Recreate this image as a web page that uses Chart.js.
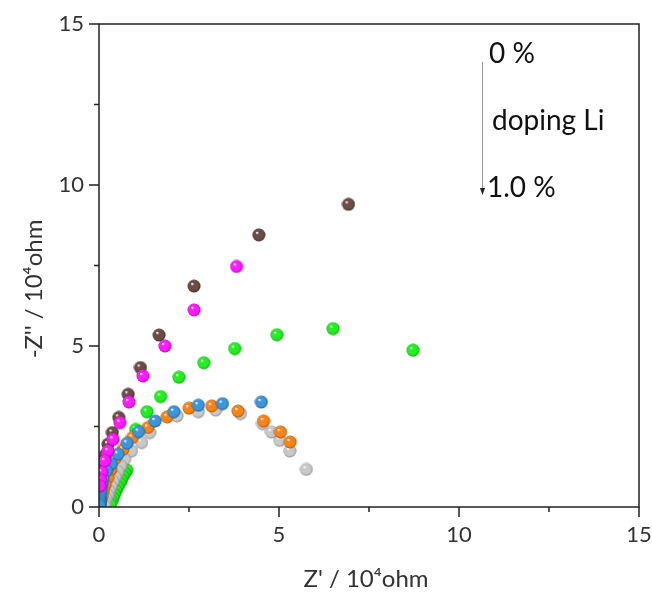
<!DOCTYPE html>
<html>
<head>
<meta charset="utf-8">
<script src="https://cdn.jsdelivr.net/npm/chart.js@4.4.1/dist/chart.umd.min.js"></script>
<style>
  html, body { margin: 0; padding: 0; background: #fff; }
  #wrap { width: 652px; height: 601px; }
</style>
</head>
<body>
<div id="wrap"><canvas id="nyquist"></canvas></div>
<script>
// Nyquist plots, Z' and -Z'' in 10^4 ohm
const dope0 = [ // 0 %
    [6.93, 9.40], [4.44, 8.45], [2.64, 6.86], [1.67, 5.34], [1.15, 4.33], [0.81, 3.50],
    [0.55, 2.78], [0.37, 2.31], [0.25, 1.95], [0.16, 1.60], [0.10, 1.30], [0.06, 1.00]
];
const dope02 = [
    [3.82, 7.47], [2.64, 6.12], [1.83, 5.00], [1.22, 4.07], [0.83, 3.26], [0.58, 2.62],
    [0.39, 2.10], [0.25, 1.74], [0.16, 1.43], [0.07, 1.08], [0.04, 0.85], [0.02, 0.65]
];
const dope04 = [
    [8.72, 4.87], [6.50, 5.54], [4.94, 5.35], [3.77, 4.92], [2.91, 4.48], [2.22, 4.03],
    [1.71, 3.43], [1.33, 2.96], [1.02, 2.41],
    [0.77, 1.15], [0.72, 1.05], [0.67, 0.95], [0.62, 0.84], [0.57, 0.73], [0.52, 0.62],
    [0.47, 0.50], [0.43, 0.39], [0.39, 0.28], [0.35, 0.18], [0.31, 0.08]
];
const dope06 = [
    [4.51, 3.26], [3.43, 3.21], [2.76, 3.16], [2.08, 2.96], [1.56, 2.67], [1.10, 2.34],
    [0.78, 1.98], [0.53, 1.64], [0.34, 1.33], [0.21, 1.12], [0.11, 0.86],
    [0.08, 0.72], [0.06, 0.60], [0.05, 0.48], [0.04, 0.38], [0.035, 0.29], [0.03, 0.21],
    [0.025, 0.14], [0.02, 0.08], [0.015, 0.03]
];
const dope08 = [
    [5.31, 2.02], [5.04, 2.33], [4.57, 2.67], [3.86, 2.98], [3.13, 3.14], [2.50, 3.07],
    [1.89, 2.80], [1.36, 2.47], [0.93, 2.16], [0.67, 1.79], [0.44, 1.48],
    [0.33, 1.15], [0.24, 0.90], [0.17, 0.68], [0.12, 0.50], [0.08, 0.33], [0.05, 0.20], [0.03, 0.10]
];
const dope10 = [ // 1.0 %
    [5.76, 1.17], [5.30, 1.74], [5.02, 2.07], [4.79, 2.33], [4.54, 2.59], [3.93, 2.90],
    [3.24, 3.01], [2.76, 2.96], [2.17, 2.83], [1.41, 2.31], [1.18, 2.00], [0.90, 1.74],
    [0.71, 1.48], [0.60, 1.28], [0.52, 1.10], [0.45, 0.94], [0.39, 0.79], [0.33, 0.64],
    [0.28, 0.50], [0.24, 0.37], [0.20, 0.25], [0.17, 0.14], [0.15, 0.05]
];
const axisTicks = [0, 5, 10, 15];
const xTitle = 'Z\' / 10\u2074ohm';
const yTitle = '-Z\'\' / 10\u2074ohm';

// shaded ball marker
function ball(color, dark) {
    const c = document.createElement('canvas');
    c.width = 14; c.height = 14;
    const g = c.getContext('2d');
    const grad = g.createRadialGradient(5, 4.6, 0.4, 7, 7, 6.6);
    grad.addColorStop(0, '#ffffff');
    grad.addColorStop(0.22, color);
    grad.addColorStop(0.75, color);
    grad.addColorStop(1, dark);
    g.fillStyle = grad;
    g.beginPath();
    g.arc(7, 7, 6.5, 0, Math.PI * 2);
    g.fill();
    return c;
}

function toPts(arr) { return arr.map(p => ({ x: p[0], y: p[1] })); }

function series(data, color, dark, order) {
    return {
        data: toPts(data),
        pointStyle: ball(color, dark),
        pointRadius: 6.5,
        showLine: false,
        order: order
    };
}

// frame, tick marks, axis titles and the doping arrow note
const decor = {
    id: 'decor',
    afterDraw(chart) {
        const ctx = chart.ctx;
        const a = chart.chartArea;
        const xs = chart.scales.x, ys = chart.scales.y;
        ctx.save();
        ctx.strokeStyle = '#222';
        ctx.lineWidth = 1.5;
        ctx.strokeRect(a.left, a.top, a.right - a.left, a.bottom - a.top);
        ctx.beginPath();
        for (let v = 0; v <= 15; v += 2.5) {
            const len = axisTicks.includes(v) ? 10 : 5;
            const px = xs.getPixelForValue(v);
            ctx.moveTo(px, a.bottom); ctx.lineTo(px, a.bottom + len);
            const py = ys.getPixelForValue(v);
            ctx.moveTo(a.left, py); ctx.lineTo(a.left - len, py);
        }
        ctx.stroke();

        ctx.fillStyle = '#333';
        ctx.font = '24px Lato';
        ctx.textAlign = 'center';
        ctx.textBaseline = 'alphabetic';
        ctx.fillText(xTitle, 366, 587);
        ctx.save();
        ctx.translate(42, 289);
        ctx.rotate(-Math.PI / 2);
        ctx.fillText(yTitle, 0, 0);
        ctx.restore();

        ctx.strokeStyle = '#999';
        ctx.lineWidth = 1;
        ctx.beginPath();
        ctx.moveTo(482.5, 62); ctx.lineTo(482.5, 190);
        ctx.stroke();
        ctx.fillStyle = '#222';
        ctx.beginPath();
        ctx.moveTo(480, 188); ctx.lineTo(485, 188); ctx.lineTo(482.5, 195);
        ctx.closePath();
        ctx.fill();

        ctx.fillStyle = '#111';
        ctx.font = '28px Lato';
        ctx.textAlign = 'left';
        ctx.fillText('0 %', 489, 63);
        ctx.fillText('doping Li', 492, 130);
        ctx.fillText('1.0 %', 487, 197);
        ctx.restore();
    }
};

const tickFont = { family: 'Lato', size: 22 };

new Chart(document.getElementById('nyquist'), {
    type: 'scatter',
    data: {
        datasets: [
            series(dope02, '#ff1aff', '#b000b0', 1),
            series(dope06, '#3d95dc', '#1d5c96', 2),
            series(dope0, '#6e4c46', '#3e2622', 3),
            series(dope08, '#f5841a', '#b35300', 4),
            series(dope10, '#c8c8c8', '#8c8c8c', 5),
            series(dope04, '#22ee22', '#00a000', 6)
        ]
    },
    options: {
        responsive: true,
        maintainAspectRatio: false,
        animation: false,
        layout: { padding: { top: 24, right: 0, left: 0, bottom: 0 } },
        plugins: { legend: { display: false }, tooltip: { enabled: false } },
        scales: {
            x: {
                type: 'linear', min: 0, max: 15,
                grid: { display: false, drawTicks: false },
                border: { display: false },
                ticks: {
                    stepSize: 2.5, autoSkip: false, maxRotation: 0, padding: 15,
                    color: '#333', font: tickFont,
                    callback: v => axisTicks.includes(v) ? v : ''
                },
                afterFit(s) { s.height = 94; s.paddingRight = 13; s.paddingLeft = 0; }
            },
            y: {
                type: 'linear', min: 0, max: 15,
                grid: { display: false, drawTicks: false },
                border: { display: false },
                ticks: {
                    stepSize: 2.5, autoSkip: false, padding: 15,
                    color: '#333', font: tickFont,
                    callback: v => axisTicks.includes(v) ? v : ''
                },
                afterFit(s) { s.width = 99; s.paddingTop = 0; s.paddingBottom = 0; }
            }
        }
    },
    plugins: [decor]
});
</script>
</body>
</html>
